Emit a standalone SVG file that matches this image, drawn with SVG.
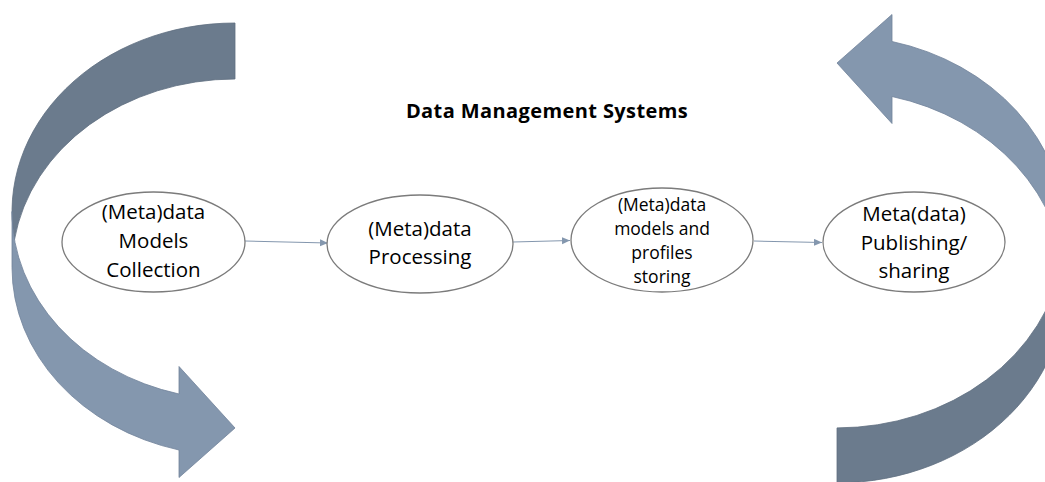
<svg xmlns="http://www.w3.org/2000/svg" width="1045" height="482" viewBox="0 0 1045 482">
  <style>
    .front { fill: #8497ae; stroke: #71839a; stroke-width: 0.8; }
    .back { fill: #6b7b8d; stroke: #5f6e80; stroke-width: 0.8; }
    .node ellipse { fill: #ffffff; stroke: #7b7b7b; stroke-width: 1.3; }
    .label { font-family: "Open Sans", "Liberation Sans", sans-serif; font-size: 20.5px; fill: #000000; text-anchor: middle; }
    .small { font-size: 17.5px; }
    .title { font-family: "Open Sans", "Liberation Sans", sans-serif; font-size: 20px; letter-spacing: 0.4px; font-weight: bold; fill: #000000; text-anchor: middle; }
    .link { stroke: #8497ae; stroke-width: 1.1; fill: none; marker-end: url(#tip); }
  </style>
  <defs>
    <marker id="tip" markerUnits="userSpaceOnUse" markerWidth="9" markerHeight="8" refX="8" refY="3.5" orient="auto">
      <path d="M0,0 L8,3.5 L0,7 Z" fill="#8497ae"/>
    </marker>
  </defs>
  <rect width="1045" height="482" fill="#ffffff"/>

  <!-- left curved arrow: tail top-right, head bottom-right -->
  <g id="cycle-left">
    <path class="back" d="M235,79 A223,188.5 0 0 0 14.5,239.5 A223,188.5 0 0 1 235,23 Z"/>
    <path class="front" d="M12,211.5 A223,188.5 0 0 0 179,394 L179,366.5 L235,428 L179,477.5 L179,450 A223,188.5 0 0 1 12,267.5 Z"/>
  </g>

  <!-- right curved arrow: tail bottom-left, head top-left -->
  <g id="cycle-right">
    <path class="back" d="M837,427.9 A228,196.1 0 0 0 1062.7,259.3 A228,196.1 0 0 1 837,482.9 Z"/>
    <path class="front" d="M1065,286.8 A228,196.1 0 0 0 892,96.5 L892,123.5 L837,63 L892,14.5 L892,41.5 A228,196.1 0 0 1 1065,231.8 Z"/>
  </g>

  <text class="title" x="547" y="118">Data Management Systems</text>

  <g id="connectors">
    <path class="link" d="M245,241 L328,243"/>
    <path class="link" d="M513,242 L570,240.5"/>
    <path class="link" d="M754,241 L822,242.5"/>
  </g>

  <g id="node-collection" class="node">
    <ellipse cx="153.5" cy="242" rx="91.5" ry="50"/>
    <text class="label" x="153.5" y="219">(Meta)data</text>
    <text class="label" x="153.5" y="248">Models</text>
    <text class="label" x="153.5" y="277">Collection</text>
  </g>

  <g id="node-processing" class="node">
    <ellipse cx="420" cy="244" rx="93" ry="49"/>
    <text class="label" x="420" y="236">(Meta)data</text>
    <text class="label" x="420" y="264">Processing</text>
  </g>

  <g id="node-storing" class="node">
    <ellipse cx="662" cy="240" rx="91" ry="52"/>
    <text class="label small" x="662" y="211">(Meta)data</text>
    <text class="label small" x="662" y="235">models and</text>
    <text class="label small" x="662" y="259">profiles</text>
    <text class="label small" x="662" y="283">storing</text>
  </g>

  <g id="node-publishing" class="node">
    <ellipse cx="914" cy="242" rx="91" ry="50"/>
    <text class="label" x="914" y="221">Meta(data)</text>
    <text class="label" x="914" y="250">Publishing/</text>
    <text class="label" x="914" y="278">sharing</text>
  </g>
</svg>
